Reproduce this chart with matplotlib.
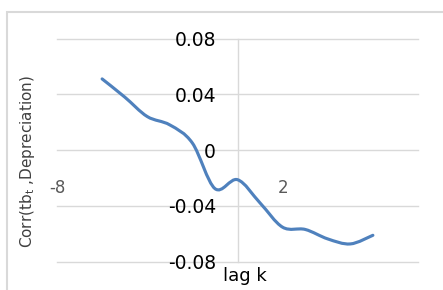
import numpy as np
import matplotlib
matplotlib.use("Agg")
import matplotlib.pyplot as plt
from matplotlib.path import Path
from matplotlib.patches import PathPatch, Rectangle

# lag k and the correlation
lags = [-6, -5, -4, -3, -2, -1, 0, 1, 2, 3, 4, 5, 6]
corr = [0.051, 0.038, 0.024, 0.018, 0.005, -0.0277, -0.0213,
        -0.038, -0.0554, -0.057, -0.0638, -0.0674, -0.0612]

yticks = [-0.08, -0.04, 0, 0.04, 0.08]
ytick_labels = ["-0.08", "-0.04", "0", "0.04", "0.08"]
xticks = [-8, 2]
xtick_labels = ["-8", "2"]

grid_col = "#d9d9d9"
line_col = "#4f81bd"


def smooth_path(xs, ys):
    """Excel-like smoothed line: Catmull-Rom turned into cubic Bezier pieces."""
    p = np.column_stack([xs, ys]).astype(float)
    n = len(p)
    verts = [p[0]]
    codes = [Path.MOVETO]
    for i in range(n - 1):
        p0 = p[i - 1] if i > 0 else p[i]
        p1 = p[i]
        p2 = p[i + 1]
        p3 = p[i + 2] if i + 2 < n else p[i + 1]
        c1 = p1 + (p2 - p0) / 6.0
        c2 = p2 - (p3 - p1) / 6.0
        verts += [c1, c2, p2]
        codes += [Path.CURVE4] * 3
    return Path(verts, codes)


W, H = 443, 290
fig = plt.figure(figsize=(W / 100, H / 100), dpi=100)

# light chart-area frame (runs off the right and bottom edges)
fig.patches.append(Rectangle((6.5 / W, -0.1), 1.2, (H - 11.5) / H + 0.1,
                             transform=fig.transFigure, fill=False,
                             edgecolor=grid_col, linewidth=1.5))

# plot area: x -8..8 -> px 57..418, y -0.08..0.08 -> px 261.5..38.5
ax = fig.add_axes([57 / W, (H - 261.5) / H, 361 / W, 223 / H])
ax.set_xlim(-8, 8)
ax.set_ylim(-0.08, 0.08)

ax.set_yticks(yticks)
ax.set_yticklabels(ytick_labels)
ax.set_xticks(xticks)
ax.set_xticklabels(xtick_labels)

for s in ax.spines.values():
    s.set_visible(False)
ax.spines["left"].set_position(("data", 0))
ax.spines["bottom"].set_position(("data", -0.02))

ax.tick_params(axis="y", length=0, pad=15.5, labelsize=13.5, labelcolor="black")
ax.tick_params(axis="x", length=0, pad=1, labelsize=12, labelcolor="#595959")

ax.grid(axis="y", color=grid_col, linewidth=1)
ax.grid(axis="x", visible=False)
for gl in ax.get_ygridlines():
    gl.set_clip_on(False)
ax.axvline(0, color=grid_col, linewidth=1, clip_on=False, zorder=0.5)
ax.set_axisbelow(True)

ax.add_patch(PathPatch(smooth_path(lags, corr), fill=False,
                       edgecolor=line_col, linewidth=2.25,
                       capstyle="round", joinstyle="round", zorder=3))

fig.text(244.7 / W, 1 - 276 / H, "lag k", fontsize=13, color="black",
         ha="center", va="center")
fig.text(28 / W, 1 - 162 / H, r"Corr(tb$_\mathregular{t}$ ,Depreciation)",
         fontsize=11, color="#404040", rotation=90, ha="center", va="center")

fig.savefig("out.png", dpi=100)
